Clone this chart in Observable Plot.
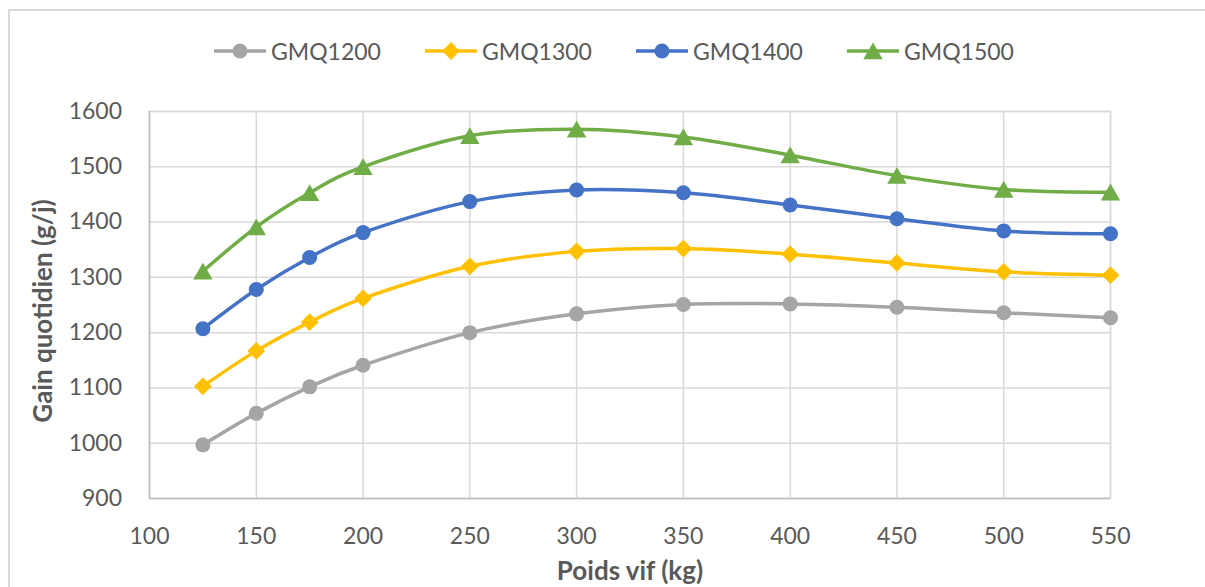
<!DOCTYPE html>
<html>
<head>
<meta charset="utf-8">
<script src="https://cdn.jsdelivr.net/npm/d3@7"></script>
<script src="https://cdn.jsdelivr.net/npm/@observablehq/plot@0.6"></script>
<style>
  html, body { margin: 0; padding: 0; background: #fff; }
  #wrap { position: relative; width: 1205px; height: 587px; overflow: hidden; font-family: Lato, "Open Sans", sans-serif; }
  #border { position: absolute; left: 8px; top: 9px; width: 1400px; height: 800px; border: 2px solid #d9d9d9; box-sizing: border-box; }
  #chart { position: absolute; left: 0; top: 0; }
  #legend { position: absolute; left: 214px; top: 37px; display: flex; }
  .item { display: inline-flex; align-items: center; width: 211px; }
  .item span { margin-left: 5px; font-size: 23px; color: #595959; font-family: Lato, sans-serif; }
</style>
</head>
<body>
<div id="wrap">
  <div id="border"></div>
  <div id="chart"></div>
  <div id="legend"></div>
</div>
<script>
// ---- Data ----
const poids = [125, 150, 175, 200, 250, 300, 350, 400, 450, 500, 550];
const gmq1200 = [997, 1054, 1102, 1141, 1200, 1234, 1251, 1252, 1246, 1236, 1227];
const gmq1300 = [1103, 1167, 1219, 1262, 1320, 1347, 1352, 1342, 1326, 1310, 1304];
const gmq1400 = [1207, 1278, 1336, 1381, 1437, 1458, 1453, 1431, 1406, 1384, 1379];
const gmq1500 = [1311, 1391, 1453, 1500, 1556, 1568, 1554, 1521, 1484, 1459, 1454];
const seriesNames = ["GMQ1200", "GMQ1300", "GMQ1400", "GMQ1500"];
const xTicks = [100, 150, 200, 250, 300, 350, 400, 450, 500, 550];
const yTicks = [900, 1000, 1100, 1200, 1300, 1400, 1500, 1600];
const xTitle = "Poids vif (kg)";
const yTitle = "Gain quotidien (g/j)";

// ---- Styles ----
const values = [gmq1200, gmq1300, gmq1400, gmq1500];
const colors = ["#A5A5A5", "#FFC000", "#4472C4", "#70AD47"];
const symbols = ["circle", "diamond2", "circle", "triangle"];
const d3symbols = [d3.symbolCircle, d3.symbolDiamond2, d3.symbolCircle, d3.symbolTriangle];
const radii = [7.5, 8, 7.5, 7.2];
const dys = [0, 0, 0, 2.6];

const rows = seriesNames.flatMap((s, i) => poids.map((p, j) => ({poids: p, gmq: values[i][j], serie: s})));

const textColor = "#595959";
const marks = [
  Plot.gridX(xTicks, {stroke: "#d9d9d9", strokeOpacity: 1, strokeWidth: 1.5}),
  Plot.gridY(yTicks, {stroke: "#d9d9d9", strokeOpacity: 1, strokeWidth: 1.5}),
  Plot.frame({stroke: "#d9d9d9", strokeWidth: 1.5}),
  Plot.ruleX([xTicks[0]], {stroke: "#bfbfbf", strokeWidth: 1.5}),
  Plot.ruleY([yTicks[0]], {stroke: "#bfbfbf", strokeWidth: 1.5}),
  Plot.axisX(xTicks, {tickSize: 0, tickPadding: 29, fontSize: 23, fill: textColor, label: null, tickFormat: d => String(d)}),
  Plot.axisY(yTicks, {tickSize: 0, tickPadding: 27.5, fontSize: 23, fill: textColor, label: null, tickFormat: d => String(d)})
];
seriesNames.forEach((s, i) => {
  const sub = rows.filter(r => r.serie === s);
  marks.push(Plot.line(sub, {x: "poids", y: "gmq", stroke: colors[i], strokeWidth: 3.5, curve: "cardinal", strokeLinecap: "round", strokeLinejoin: "round"}));
});
seriesNames.forEach((s, i) => {
  const sub = rows.filter(r => r.serie === s);
  marks.push(Plot.dot(sub, {x: "poids", y: "gmq", fill: colors[i], stroke: "none", symbol: () => symbols[i], r: radii[i], dy: dys[i]}));
});
marks.push(Plot.text([yTitle], {frameAnchor: "left", textAnchor: "middle", lineAnchor: "middle", dx: -106, dy: 6, rotate: -90, fontWeight: "bold", fontSize: 26, fill: textColor}));
marks.push(Plot.text([xTitle], {frameAnchor: "bottom", textAnchor: "middle", lineAnchor: "middle", dy: 73, fontWeight: "bold", fontSize: 26, fill: textColor}));

const chart = Plot.plot({
  width: 1205,
  height: 587,
  marginLeft: 149,
  marginRight: 95,
  marginTop: 111,
  marginBottom: 89,
  style: {background: "transparent", fontFamily: "Lato, sans-serif", fontSize: "23px", overflow: "visible"},
  x: {domain: [xTicks[0], xTicks[xTicks.length - 1]]},
  y: {domain: [yTicks[0], yTicks[yTicks.length - 1]]},
  marks
});
document.getElementById("chart").appendChild(chart);

// ---- Legend ----
const legend = d3.select("#legend");
seriesNames.forEach((s, i) => {
  const item = legend.append("div").attr("class", "item");
  const svg = item.append("svg").attr("width", 52).attr("height", 26);
  svg.append("line").attr("x1", 0).attr("x2", 52).attr("y1", 13).attr("y2", 13)
    .attr("stroke", colors[i]).attr("stroke-width", 3.5);
  svg.append("path")
    .attr("d", d3.symbol(d3symbols[i], Math.PI * radii[i] * radii[i])())
    .attr("transform", `translate(26,${13 + dys[i]})`)
    .attr("fill", colors[i]);
  item.append("span").text(s);
});
</script>
</body>
</html>
